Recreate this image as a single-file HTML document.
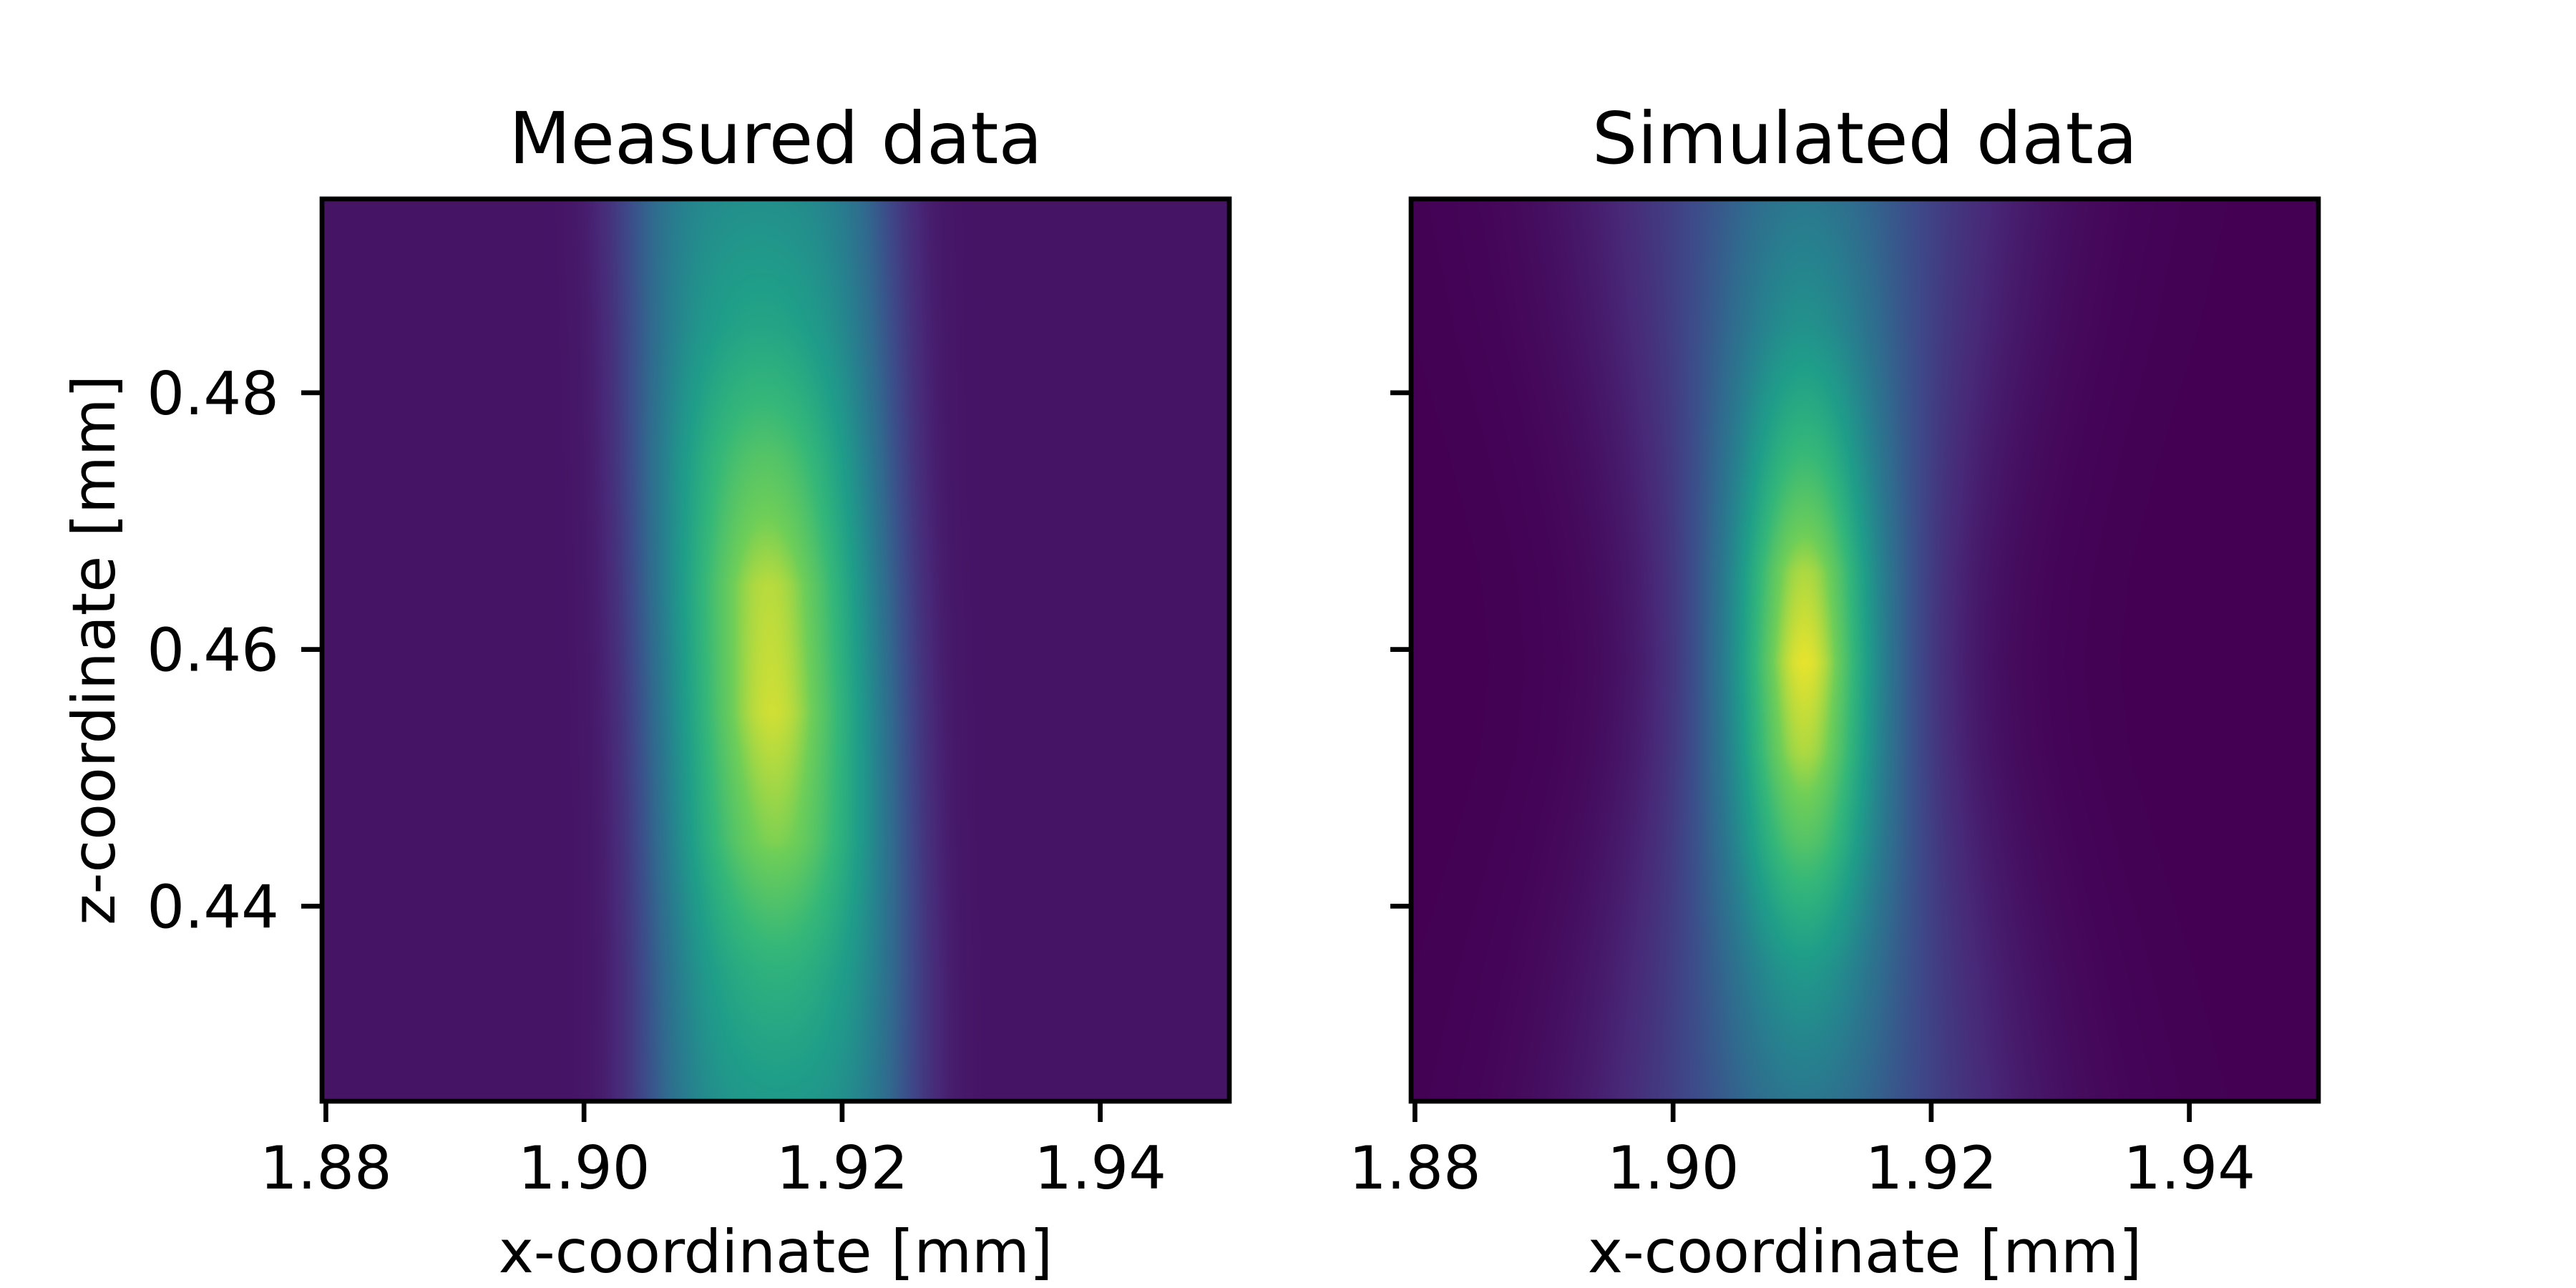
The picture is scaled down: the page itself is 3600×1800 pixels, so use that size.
<!DOCTYPE html>
<html><head><meta charset="utf-8">
<style>
html,body{margin:0;padding:0;background:#fff;}
#wrap{position:relative;width:3600px;height:1800px;overflow:hidden;background:#fff;}
canvas{position:absolute;}
svg{position:absolute;left:0;top:0;}
text{font-family:"DejaVu Sans","Liberation Sans",sans-serif;fill:#000;}
</style></head>
<body>
<div id="wrap">
<canvas id="c1" width="1268" height="1261" style="left:450px;top:278px"></canvas>
<canvas id="c2" width="1268" height="1261" style="left:1972px;top:278px"></canvas>
<svg id="s" width="3600" height="1800"></svg>
</div>
<script>
// ---- data ----
const xTicks = [1.88, 1.90, 1.92, 1.94];
const xTickLabels = ["1.88", "1.90", "1.92", "1.94"];
const zTicks = [0.44, 0.46, 0.48];
const zTickLabels = ["0.44", "0.46", "0.48"];
const titles = ["Measured data", "Simulated data"];
// measured beam profile, sampled per z row
const measZ      = [0.425, 0.435, 0.445, 0.455, 0.465, 0.475, 0.485, 0.495];
const measCenter = [1.9150, 1.9150, 1.9148, 1.9146, 1.9143, 1.9140, 1.9138, 1.9135];
const measFlat   = [0.50, 0.54, 0.58, 0.58, 0.58, 0.56, 0.50, 0.46];
const measFlatS  = [0.0088, 0.0087, 0.0086, 0.0086, 0.0086, 0.0086, 0.0087, 0.0088];
const measCore   = [0.05, 0.12, 0.25, 0.32, 0.30, 0.20, 0.10, 0.04];
const measBase   = [0.06, 0.06, 0.06, 0.06, 0.06, 0.06, 0.06, 0.06];
// simulated beam profile
const simZ       = [0.425, 0.435, 0.445, 0.452, 0.459, 0.466, 0.475, 0.485, 0.495];
const simCenter  = [1.9102, 1.9102, 1.9102, 1.9102, 1.9102, 1.9102, 1.9102, 1.9102, 1.9102];
const simNarrow  = [0.10, 0.25, 0.48, 0.60, 0.66, 0.60, 0.42, 0.22, 0.10];
const simNarrowS = [0.0045, 0.0045, 0.0045, 0.0045, 0.0045, 0.0045, 0.0045, 0.0045, 0.0045];
const simBroad   = [0.35, 0.35, 0.34, 0.33, 0.32, 0.33, 0.34, 0.35, 0.35];
const simBroadS  = [0.0100, 0.0092, 0.0083, 0.0077, 0.0075, 0.0077, 0.0084, 0.0093, 0.0100];

// ---- axes ----
const X0 = 1.8797, X1 = 1.95, Z0 = 0.4248, Z1 = 0.4951;
const AW = 1268, AH = 1261, AT = 278;
const axLefts = [450, 1972];
function xs(v, i){ return axLefts[i] + (v - X0) / (X1 - X0) * AW; }
function zs(v){ return AT + (Z1 - v) / (Z1 - Z0) * AH; }

const vir = [[68,1,84],[72,40,120],[62,73,137],[49,104,142],[38,130,142],[31,158,137],[53,183,121],[110,206,88],[253,231,37]];
function cmap(t){
  t = Math.max(0, Math.min(1, t)) * 8;
  const i = Math.min(7, Math.floor(t)), f = t - i;
  const a = vir[i], b = vir[i+1];
  return [a[0]+(b[0]-a[0])*f, a[1]+(b[1]-a[1])*f, a[2]+(b[2]-a[2])*f];
}
function interp(zArr, arr, z){
  if (z <= zArr[0]) return arr[0];
  for (let k = 0; k < zArr.length-1; k++){
    if (z <= zArr[k+1]){ const f = (z - zArr[k])/(zArr[k+1]-zArr[k]); return arr[k] + (arr[k+1]-arr[k])*f; }
  }
  return arr[arr.length-1];
}
function draw(id, valFn){
  const c = document.getElementById(id), ctx = c.getContext('2d');
  const img = ctx.createImageData(AW, AH);
  for (let py = 0; py < AH; py++){
    const z = Z1 - (py + 0.5) / AH * (Z1 - Z0);
    const row = valFn(z);
    for (let px = 0; px < AW; px++){
      const x = X0 + (px + 0.5) / AW * (X1 - X0);
      const col = cmap(row(x));
      const o = (py*AW + px)*4;
      img.data[o]=col[0]; img.data[o+1]=col[1]; img.data[o+2]=col[2]; img.data[o+3]=255;
    }
  }
  ctx.putImageData(img, 0, 0);
}
draw('c1', z => {
  const c = interp(measZ, measCenter, z), a = interp(measZ, measFlat, z),
        s = interp(measZ, measFlatS, z), k = interp(measZ, measCore, z), b = interp(measZ, measBase, z);
  return x => b + a * Math.exp(-0.5*((x-c)/s)**4) + k * Math.exp(-0.5*((x-c)/0.004)**2);
});
draw('c2', z => {
  const c = interp(simZ, simCenter, z), a = interp(simZ, simNarrow, z), s = interp(simZ, simNarrowS, z),
        b = interp(simZ, simBroad, z), bs = interp(simZ, simBroadS, z);
  return x => a * Math.exp(-0.5*((x-c)/s)**2) + b * Math.exp(-0.5*((x-c)/bs)**2);
});

const svg = document.getElementById('s'), NS = 'http://www.w3.org/2000/svg';
function el(tag, attrs, txt){
  const e = document.createElementNS(NS, tag);
  for (const k in attrs) e.setAttribute(k, attrs[k]);
  if (txt !== undefined) e.textContent = txt;
  svg.appendChild(e); return e;
}
const names = ['measured', 'simulated'];
for (let i = 0; i < 2; i++){
  const L = axLefts[i];
  const fr = el('rect', {x:L, y:AT, width:AW, height:AH, fill:'none', stroke:'#000', 'stroke-width':6.7});
  
  
  const t = el('text', {x:L + AW/2, y:228, 'font-size':100, 'text-anchor':'middle'}, titles[i]);
  
  
  xTicks.forEach((v, k) => {
    const x = xs(v, i);
    const tk = el('line', {x1:x, x2:x, y1:AT+AH, y2:AT+AH+29, stroke:'#000', 'stroke-width':6.7});
    
    
    const lb = el('text', {x:x, y:1661, 'font-size':83, 'text-anchor':'middle'}, xTickLabels[k]);
    
    
  });
  zTicks.forEach((v, k) => {
    const y = zs(v);
    const tk = el('line', {x1:L-29, x2:L, y1:y, y2:y, stroke:'#000', 'stroke-width':6.7});
    
    
    if (i === 0){
      const lb = el('text', {x:390, y:y+30, 'font-size':83, 'text-anchor':'end'}, zTickLabels[k]);
      
      
    }
  });
  const xl = el('text', {x:L + AW/2, y:1778, 'font-size':83, 'text-anchor':'middle'}, 'x-coordinate [mm]');
  
  
}
const yl = el('text', {x:0, y:0, 'font-size':83, 'text-anchor':'middle', transform:'translate(160,' + (AT+AH/2) + ') rotate(-90)'}, 'z-coordinate [mm]');


</script>
</body></html>
